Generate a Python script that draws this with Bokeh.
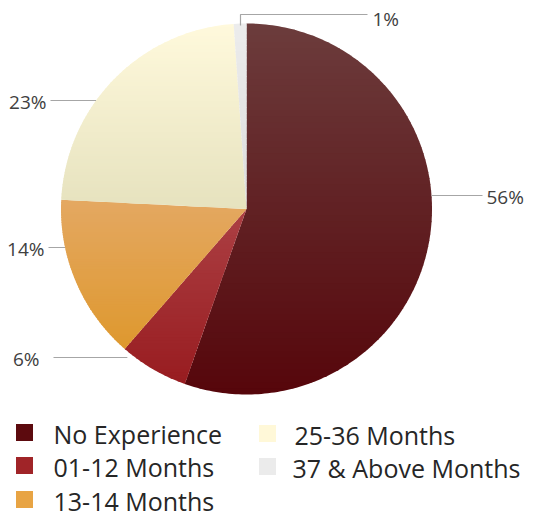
import math
from bokeh.plotting import figure
from bokeh.models import Range1d
from bokeh.core.properties import value
from bokeh.embed import file_html
from bokeh.resources import INLINE

# ---- data ----
categories = ["No Experience", "01-12 Months", "13-14 Months", "25-36 Months", "37 & Above Months"]
shares = [55.4, 6.0, 14.4, 23.1, 1.1]
share_labels = ["56%", "6%", "14%", "23%", "1%"]

# ---- styles ----
top_colors = ["#6c3c3c", "#ac4044", "#e4a862", "#fff9dc", "#ececec"]
bottom_colors = ["#56060b", "#981c20", "#de982e", "#e6e2be", "#dcdcdc"]
legend_colors = ["#5c0a0e", "#a02428", "#e8a444", "#fff8d8", "#ebebeb"]
FONT = "Open Sans"

W, H = 533, 516
p = figure(width=W, height=H, output_backend="svg", toolbar_location=None,
           x_range=Range1d(0, W), y_range=Range1d(H, 0),
           min_border=0)
p.axis.visible = False
p.grid.visible = False
p.outline_line_color = None
p.background_fill_color = "white"
p.border_fill_color = "white"

cx, cy, r = 246.0, 208.5, 185.5


def hex2rgb(h):
    h = h.lstrip("#")
    return tuple(int(h[i:i + 2], 16) for i in (0, 2, 4))


def mix(a, b, t):
    ra, rb = hex2rgb(a), hex2rgb(b)
    return "#%02x%02x%02x" % tuple(int(round(ra[k] + (rb[k] - ra[k]) * t)) for k in range(3))


def clip(poly, yv, keep_above):
    def inside(pt):
        return pt[1] >= yv if keep_above else pt[1] <= yv
    out = []
    n = len(poly)
    for i in range(n):
        a = poly[i]
        b = poly[(i + 1) % n]
        ia, ib = inside(a), inside(b)
        if ia:
            out.append(a)
        if ia != ib:
            t = (yv - a[1]) / (b[1] - a[1])
            out.append((a[0] + t * (b[0] - a[0]), yv))
    return out


total = float(sum(shares))
xs, ys, fills = [], [], []
start = 0.0
for i, s in enumerate(shares):
    a0 = start / total * 2 * math.pi
    a1 = (start + s) / total * 2 * math.pi
    start += s
    n = max(4, int((a1 - a0) / (2 * math.pi) * 360))
    poly = [(cx, cy)]
    for k in range(n + 1):
        a = a0 + (a1 - a0) * k / n
        poly.append((cx + r * math.sin(a), cy - r * math.cos(a)))
    ymin = min(pt[1] for pt in poly)
    ymax = max(pt[1] for pt in poly)
    nb = 60
    hb = (ymax - ymin) / nb
    for b in range(nb):
        y0 = ymin + b * hb
        y1 = min(y0 + hb + 0.8, ymax)
        part = clip(clip(poly, y0, True), y1, False)
        if len(part) < 3:
            continue
        xs.append([pt[0] for pt in part])
        ys.append([pt[1] for pt in part])
        fills.append(mix(top_colors[i], bottom_colors[i], (b + 0.5) / nb))

p.patches(xs, ys, fill_color=fills, line_color=None)

# ---- leader lines & labels ----
line_col = "#a6a6a6"
txt_col = "#404040"


def edge_x(y, side):
    return cx + side * math.sqrt(max(r * r - (y - cy) ** 2, 0))

y56, y6, y14, y23, y1 = 195, 357, 247, 100, 14
p.line([edge_x(y56, 1), 482], [y56, y56], line_color=line_col, line_width=1.2)
p.line([53, edge_x(y6, -1) - 8], [y6, y6], line_color=line_col, line_width=1.2)
p.line([48, edge_x(y14, -1)], [y14, y14], line_color=line_col, line_width=1.2)
p.line([50, edge_x(y23, -1)], [y23, y23], line_color=line_col, line_width=1.2)
p.line([240, 240, 367], [cy - r + 2, y1, y1], line_color=line_col, line_width=1.2)

label_x = [486, 39, 44, 46, 372]
label_y = [y56, y6, y14, y23, y1 + 3]
label_align = ["left", "right", "right", "right", "left"]
for lx, ly, la, t in zip(label_x, label_y, label_align, share_labels):
    p.text([lx], [ly + 1], text=[t], text_align=la, text_baseline="middle",
           text_font=value(FONT), text_font_size="19px", text_color=txt_col)

# ---- legend ----
leg_sq_x = [24, 24, 24, 267, 267]
leg_sq_y = [432, 465, 499, 433, 466]
leg_tx_x = [53, 53, 53, 294, 292]
p.scatter(leg_sq_x, leg_sq_y, marker="square", size=17,
          fill_color=legend_colors, line_color=None)
p.text(leg_tx_x, [y + 1 for y in leg_sq_y], text=categories, text_align="left",
       text_baseline="middle", text_font=value(FONT), text_font_size="25px",
       text_color="#262626")

open("out.html", "w").write(file_html(p, INLINE))
